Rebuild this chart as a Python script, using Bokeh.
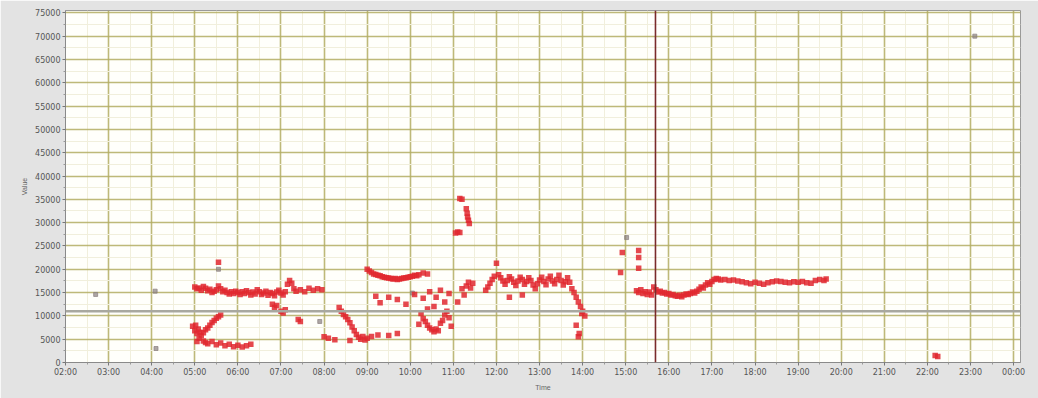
from bokeh.plotting import figure
from bokeh.models import FixedTicker, Span
from bokeh.embed import file_html
from bokeh.resources import INLINE

# ---- data (hours of day, value) ----
x_ticks = list(range(2, 25))
x_labels = ["02:00", "03:00", "04:00", "05:00", "06:00", "07:00", "08:00", "09:00",
            "10:00", "11:00", "12:00", "13:00", "14:00", "15:00", "16:00", "17:00",
            "18:00", "19:00", "20:00", "21:00", "22:00", "23:00", "00:00"]
y_ticks = list(range(0, 75001, 5000))
y_labels = [str(v) for v in y_ticks]

band_a_h = [5.00, 5.05, 5.10, 5.15, 5.20, 5.25, 5.30, 5.35, 5.40, 5.45, 5.50, 5.55, 5.60, 5.65,
            5.70, 5.75, 5.80, 5.85, 5.90, 5.95, 6.00, 6.05, 6.10, 6.15, 6.20, 6.25, 6.30, 6.35,
            6.40, 6.45, 6.50, 6.55, 6.60, 6.65, 6.70, 6.75, 6.80, 6.85, 6.90, 6.95, 7.00, 7.05,
            7.10, 7.15, 7.20, 7.25, 7.30, 7.35, 7.45, 7.55, 7.65, 7.75, 7.85, 7.95]
band_a_v = [16200, 15800, 16000, 15500, 16300, 15900, 15400, 15700, 15000, 15300, 15600, 16400,
            15800, 15200, 15500, 15000, 14700, 15200, 14800, 15300, 15000, 14600, 15200, 14800,
            15400, 15000, 14500, 15100, 14700, 15600, 15200, 14600, 14900, 15300, 14400, 15000,
            14800, 14300, 15100, 15500, 14900, 14500, 15200, 16800, 17600, 17000, 15800, 15300,
            15600, 15200, 15900, 15500, 15800, 15600]

band_b_h = [4.95, 5.00, 5.02, 5.05, 5.08, 5.10, 5.15, 5.20, 5.25, 5.30, 5.35, 5.40, 5.45, 5.50,
            5.55, 5.60, 5.05, 5.12, 5.20, 5.25, 5.30, 5.40, 5.50, 5.60, 5.70, 5.80, 5.90, 6.00,
            6.10, 6.20, 6.30, 5.55]
band_b_v = [7800, 6800, 8000, 4500, 7200, 5200, 5800, 6400, 7000, 7400, 8000, 8600, 9000, 9500,
            9800, 10200, 6200, 6500, 4600, 4300, 4000, 4500, 3800, 4200, 3600, 3900, 3400, 3700,
            3300, 3600, 3900, 21500]

band_c_h = [6.80, 6.85, 6.90, 7.00, 7.05, 7.10, 7.40, 7.45]
band_c_v = [12500, 11800, 12200, 11000, 10600, 11300, 9200, 8800]

band_d_h = [8.35, 8.40, 8.45, 8.50, 8.55, 8.60, 8.65, 8.70, 8.75, 8.80, 8.85, 8.90, 8.95, 9.00,
            8.00, 8.10, 8.25, 8.60, 9.10, 9.25, 9.50, 9.70]
band_d_v = [11800, 11000, 10300, 9800, 9200, 8500, 7600, 6800, 6000, 5400, 5000, 5600, 4800, 5200,
            5500, 5200, 4900, 4700, 5600, 5900, 5800, 6200]

band_e_h = [9.00, 9.05, 9.10, 9.15, 9.20, 9.25, 9.30, 9.35, 9.40, 9.45, 9.50, 9.55, 9.60, 9.65,
            9.70, 9.75, 9.80, 9.85, 9.90, 9.95, 10.00, 10.05, 10.10, 10.15, 10.20, 10.30, 10.40]
band_e_v = [20000, 19600, 19300, 19000, 18900, 18700, 18600, 18400, 18300, 18200, 18100, 18000,
            17900, 18000, 17800, 17900, 18000, 18100, 18200, 18300, 18400, 18500, 18700, 18600,
            18800, 19200, 19000]

band_f_h = [9.20, 9.30, 9.50, 9.70, 9.90, 10.10, 10.30, 10.45, 10.60, 10.70, 10.80, 10.90]
band_f_v = [14200, 12800, 14000, 13500, 12500, 14600, 13800, 15200, 14000, 15500, 13000, 14800]

band_g_h = [10.25, 10.30, 10.35, 10.40, 10.45, 10.50, 10.55, 10.60, 10.65, 10.70, 10.75, 10.80,
            10.85, 10.90, 10.95, 10.55, 10.40, 10.20]
band_g_v = [10500, 9400, 8800, 8000, 7400, 7000, 6600, 7200, 6800, 8400, 9000, 10200, 11000, 9600,
            7800, 12000, 11500, 8200]

band_h_h = [11.05, 11.10, 11.15, 11.15, 11.20, 11.30, 11.32, 11.35, 11.37, 11.33,
            11.20, 11.30, 11.35, 11.40, 11.45, 11.25, 11.10]
band_h_v = [27800, 28000, 27900, 35200, 35000, 33000, 32000, 30500, 29800, 31200,
            15800, 16400, 17200, 16000, 17000, 14500, 13000]

band_i_h = [11.75, 11.80, 11.85, 11.90, 11.95, 12.00, 12.05, 12.10, 12.15, 12.20, 12.25, 12.30,
            12.35, 12.40, 12.45, 12.50, 12.55, 12.60, 12.65, 12.70, 12.75, 12.80, 12.85, 12.90,
            12.95, 13.00, 13.05, 13.10, 13.15, 13.20, 13.25, 13.30, 13.35, 13.40, 13.45, 13.50,
            13.55, 13.60, 13.65, 13.70, 13.75, 13.80, 13.85, 13.90, 13.95, 14.00, 14.05, 13.98,
            12.30, 12.60, 13.90, 13.92, 13.85]
band_i_v = [15500, 16200, 17000, 17800, 18500, 21300, 18800, 18200, 17500, 16800, 17600, 18400,
            17900, 17200, 16500, 17500, 18300, 17800, 16800, 17400, 18200, 17600, 16600, 15800,
            16900, 17700, 18300, 17400, 16700, 17900, 18500, 17500, 16900, 17800, 18700, 17600,
            16600, 17300, 18200, 17200, 15800, 15000, 14000, 13000, 12000, 11000, 10000, 10500,
            14000, 14500, 5500, 6200, 8000]

band_j_h = [14.92, 15.30, 14.88, 15.30, 15.30]
band_j_v = [23600, 24000, 19300, 20200, 22500]

band_k_h = [15.25, 15.30, 15.35, 15.40, 15.45, 15.50, 15.55, 15.60, 15.65, 15.70, 15.75, 15.80,
            15.85, 15.90, 15.95, 16.00, 16.05, 16.10, 16.15, 16.20, 16.25, 16.30, 16.35, 16.40,
            16.45, 16.50, 16.55, 16.60, 16.65, 16.70, 16.75, 16.80, 16.85, 16.90, 16.95, 17.00,
            17.05, 17.10, 17.15, 17.20, 17.30, 17.40, 17.50, 17.60, 17.70, 17.80, 17.90, 18.00,
            18.10, 18.20, 18.30, 18.40, 18.50, 18.60, 18.70, 18.80, 18.90, 19.00, 19.10, 19.20,
            19.30, 19.40, 19.50, 19.60, 19.65]
band_k_v = [15400, 15000, 15600, 14800, 15200, 14600, 15100, 14500, 16200, 15600, 15100, 15300,
            14900, 15000, 14700, 14800, 14500, 14600, 14300, 14200, 14400, 14100, 14500, 14700,
            14600, 14800, 15100, 14900, 15300, 15700, 16200, 16000, 16600, 17100, 16800, 17400,
            17800, 18000, 17900, 17700, 17800, 17600, 17700, 17500, 17300, 17100, 16900, 17200,
            17000, 16800, 17100, 17300, 17500, 17400, 17200, 17100, 17300, 17200, 17400, 17100,
            17000, 17600, 17800, 17600, 17900]

late_h = [22.18, 22.24]
late_v = [1500, 1300]

grey_h = [2.70, 4.08, 4.10, 15.02, 23.10, 5.55, 7.90, 10.05]
grey_v = [14600, 15300, 3000, 26800, 70000, 20000, 8800, 14900]

threshold_value = 11000
marker_hour = 15.69

red_h = (band_a_h + band_b_h + band_c_h + band_d_h + band_e_h + band_f_h + band_g_h +
         band_h_h + band_i_h + band_j_h + band_k_h + late_h)
red_v = (band_a_v + band_b_v + band_c_v + band_d_v + band_e_v + band_f_v + band_g_v +
         band_h_v + band_i_v + band_j_v + band_k_v + late_v)

p = figure(width=1038, height=398, output_backend="svg", toolbar_location=None,
           x_range=(2, 24.16), y_range=(0, 75500),
           min_border_left=65, min_border_right=18, min_border_top=10, min_border_bottom=36,
           background_fill_color="#fffffb", border_fill_color="#e3e3e3",
           x_axis_label="Time", y_axis_label="Value")
p.outline_line_color = "#9a9a9a"

p.xaxis.ticker = FixedTicker(ticks=x_ticks, minor_ticks=[h + 0.5 for h in x_ticks])
p.xaxis.major_label_overrides = {t: l for t, l in zip(x_ticks, x_labels)}
p.yaxis.ticker = FixedTicker(ticks=y_ticks, minor_ticks=[v + 2500 for v in y_ticks])
p.yaxis.major_label_overrides = {t: l for t, l in zip(y_ticks, y_labels)}

for ax in (p.xaxis, p.yaxis):
    ax.major_label_text_font_size = "8px"
    ax.major_label_text_color = "#555555"
    ax.major_label_text_font = "DejaVu Sans"
    ax.axis_label_text_font_size = "7px"
    ax.axis_label_text_font_style = "normal"
    ax.axis_label_text_color = "#666666"
    ax.axis_line_color = "#8a8a8a"
    ax.major_tick_line_color = "#777777"
    ax.minor_tick_line_color = "#999999"
    ax.major_tick_out = 3
    ax.major_tick_in = 0
    ax.minor_tick_out = 2
    ax.major_label_standoff = 2
    ax.axis_label_standoff = 4

p.grid.grid_line_color = "#b3ad62"
p.grid.grid_line_width = 1.6
p.grid.grid_line_alpha = 0.85
p.grid.minor_grid_line_color = "#f1efdc"
p.grid.minor_grid_line_width = 1

p.add_layout(Span(location=threshold_value, dimension="width",
                  line_color="#a8a8a0", line_width=2.5))
p.add_layout(Span(location=marker_hour, dimension="height",
                  line_color="#7a2b2b", line_width=1.6))

p.scatter(grey_h, grey_v, marker="square", size=4, color="#8a8080", alpha=0.7)
p.scatter(red_h, red_v, marker="square", size=5.5, color="#e0282f", alpha=0.85,
          line_color=None)

open("out.html", "w").write(file_html(p, INLINE))
